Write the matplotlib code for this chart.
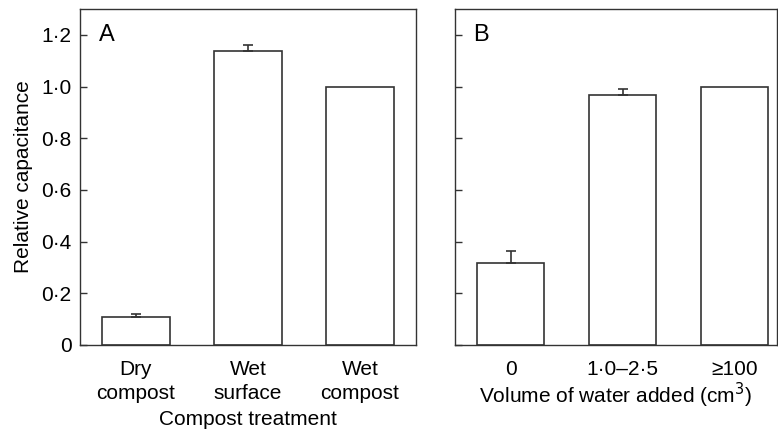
import numpy as np
import matplotlib
matplotlib.use("Agg")
import matplotlib.pyplot as plt

plt.rcParams['font.family'] = ['Liberation Sans', 'DejaVu Sans']

# panel A
treatments = ["Dry\ncompost", "Wet\nsurface", "Wet\ncompost"]
cap_a = [0.108, 1.137, 1.0]
err_a = [0.013, 0.023, 0.0]

# panel B
water = ["0", "1\u00b70\u20132\u00b75", "\u2265100"]
cap_b = [0.319, 0.969, 1.0]
err_b = [0.043, 0.023, 0.0]

yticks = [0, 0.2, 0.4, 0.6, 0.8, 1.0, 1.2]
ytick_labels = ["0", "0\u00b72", "0\u00b74", "0\u00b76", "0\u00b78", "1\u00b70", "1\u00b72"]

edge = "#333333"
fs = 15

fig = plt.figure(figsize=(7.78, 4.30), dpi=100)
axA = fig.add_axes([0.1028, 0.1977, 0.432, 0.781])
axB = fig.add_axes([0.585, 0.1977, 0.4135, 0.781])


def draw_panel(ax, labels, vals, errs, letter, xmax):
    x = np.arange(len(vals))
    ax.bar(x, vals, width=0.6, color="white", edgecolor=edge, linewidth=1.2, zorder=2)
    errs = np.array(errs)
    m = errs > 0
    ax.errorbar(x[m], np.array(vals)[m], yerr=[np.zeros(m.sum()), errs[m]],
                fmt="none", ecolor=edge, elinewidth=1.2, capsize=3.5, capthick=1.2, zorder=3)
    ax.set_xlim(-0.5, xmax)
    ax.set_ylim(0, 1.3)
    ax.set_xticks(x)
    ax.set_xticklabels(labels, fontsize=fs, linespacing=1.3)
    ax.set_yticks(yticks)
    ax.tick_params(direction="in", length=5, width=1, color=edge, pad=6)
    ax.tick_params(axis="x", pad=11)
    for s in ax.spines.values():
        s.set_color(edge)
        s.set_linewidth(1)
    ax.text(0.055, 0.955, letter, transform=ax.transAxes, fontsize=17, va="top", ha="left")


draw_panel(axA, treatments, cap_a, err_a, "A", 2.5)
axA.set_yticklabels(ytick_labels, fontsize=fs)
axA.set_ylabel("Relative capacitance", fontsize=fs, labelpad=6)
axA.set_xlabel("Compost treatment", fontsize=fs, labelpad=5)

draw_panel(axB, water, cap_b, err_b, "B", 2.38)
axB.set_yticklabels([])
axB.set_xlabel("Volume of water added (cm$^3$)", fontsize=fs, labelpad=1)

fig.savefig("out.png", dpi=100)
